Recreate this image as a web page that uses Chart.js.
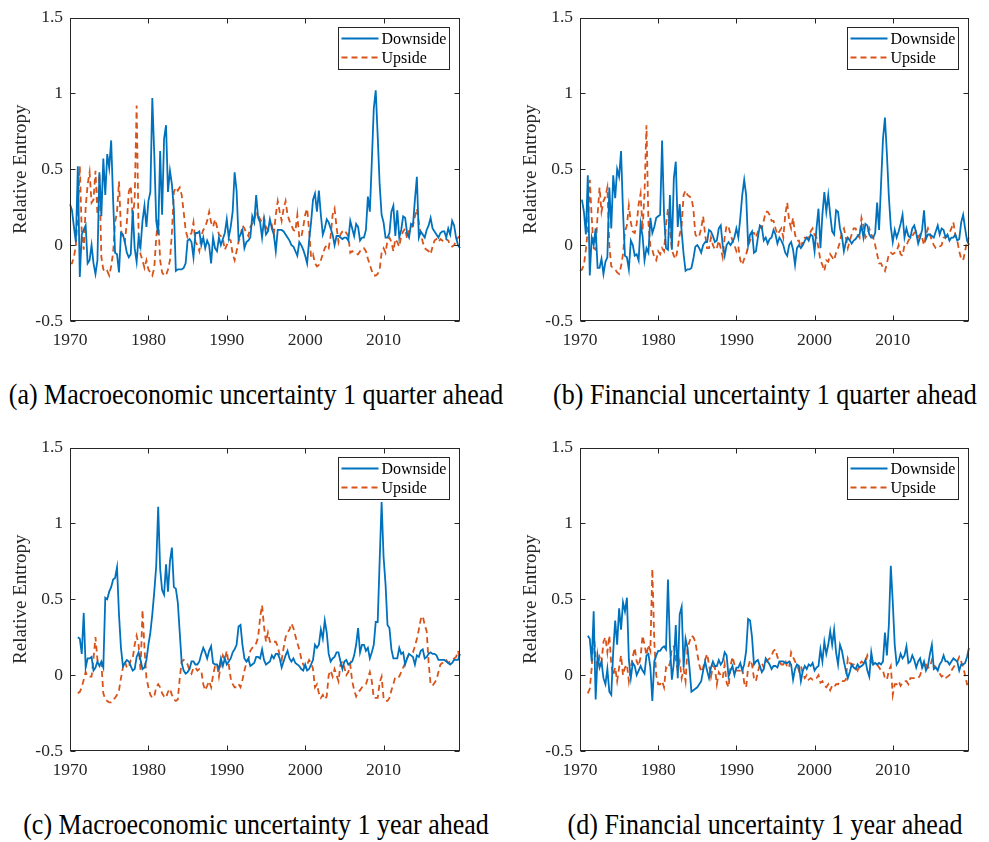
<!DOCTYPE html>
<html>
<head>
<meta charset="utf-8">
<script src="https://cdn.jsdelivr.net/npm/chart.js@4.4.1/dist/chart.umd.min.js"></script>
<style>
  html, body { margin: 0; padding: 0; background: #fff; width: 989px; height: 842px; overflow: hidden; }
  canvas { position: absolute; }
  .cap { position: absolute; font-family: "Liberation Serif", "Times New Roman", serif; font-size: 26px; line-height: 26px; color: #000; white-space: nowrap; transform: translateX(-50%) scaleY(1.15); }
</style>
</head>
<body>
<canvas id="ca" width="494" height="370" style="left:0;top:0"></canvas>
<canvas id="cb" width="479" height="370" style="left:510px;top:0"></canvas>
<canvas id="cc" width="494" height="370" style="left:0;top:430px"></canvas>
<canvas id="cd" width="479" height="370" style="left:510px;top:430px"></canvas>
<div class="cap" style="left:256px;top:382px">(a) Macroeconomic uncertainty 1 quarter ahead</div>
<div class="cap" style="left:765px;top:382px">(b) Financial uncertainty 1 quarter ahead</div>
<div class="cap" style="left:256px;top:812px">(c) Macroeconomic uncertainty 1 year ahead</div>
<div class="cap" style="left:765px;top:812px">(d) Financial uncertainty 1 year ahead</div>
<script>
// ---------- categories (quarters 1970Q1 .. 2019Q4) ----------
const years = [];
for (let y = 1970; y <= 2019; y++) years.push(y);
const quarters = years.flatMap(y => ['Q1', 'Q2', 'Q3', 'Q4'].map(q => y + q));
const xTickYears = ['1970', '1980', '1990', '2000', '2010'];
const yTickValues = [-0.5, 0, 0.5, 1, 1.5];
const seriesLabels = ['Downside', 'Upside'];

// ---------- (a) Macroeconomic uncertainty 1 quarter ahead ----------
const macroQDown = [
 0.27,0.23,0.12,0.02,0.52,-0.21,0.07,0.10,0.13,-0.12,
 -0.10,0.00,-0.12,-0.19,-0.10,0.48,0.19,0.57,0.33,0.60,
 0.51,0.69,0.30,-0.05,-0.06,-0.18,0.08,0.07,0.02,-0.05,
 -0.08,-0.06,0.23,-0.02,-0.11,0.05,-0.01,0.16,0.26,0.12,
 0.29,0.35,0.97,0.60,0.16,0.07,0.62,0.20,0.70,0.79,
 0.35,0.49,0.40,0.24,-0.17,-0.16,-0.16,-0.16,-0.15,-0.12,
 0.03,0.04,0.02,-0.08,0.08,0.08,0.09,0.00,0.05,-0.02,
 0.03,0.00,-0.12,0.05,-0.02,-0.04,0.05,0.00,0.04,0.08,
 0.17,0.05,0.12,0.22,0.48,0.36,0.04,0.07,0.10,-0.02,
 0.02,0.03,0.05,0.19,0.15,0.33,0.18,0.15,0.05,0.17,
 0.07,0.09,0.17,0.11,0.07,-0.04,0.10,0.10,0.10,0.09,
 0.07,0.05,0.03,0.00,-0.01,-0.04,-0.07,0.02,0.00,-0.03,
 -0.07,-0.12,0.03,0.15,0.30,0.34,0.22,0.36,0.20,0.07,
 0.11,0.17,0.15,0.11,0.07,0.00,0.06,0.06,0.05,0.04,
 0.05,0.05,0.03,0.16,0.11,0.06,0.14,0.12,0.03,0.05,
 0.05,0.10,0.32,0.22,0.55,0.90,1.02,0.72,0.40,0.20,
 0.15,0.05,0.05,0.08,0.22,0.26,0.06,0.23,0.05,0.10,
 0.19,0.18,0.08,0.05,0.14,0.13,0.30,0.45,0.05,0.09,
 0.07,0.05,0.10,0.13,0.18,0.11,0.09,0.07,0.05,0.08,
 0.09,0.09,0.05,0.11,0.07,0.16,0.13,0.05,0.00,-0.02
];
const macroQUp = [
 -0.12,-0.12,-0.08,0.00,0.22,0.52,0.08,-0.03,0.25,0.40,
 0.48,0.28,0.30,0.49,0.20,0.47,-0.08,-0.16,-0.18,-0.17,
 -0.20,-0.14,-0.05,0.15,0.22,0.42,0.10,0.05,0.02,0.15,
 0.35,0.39,0.18,0.30,0.92,0.08,-0.06,-0.10,-0.15,-0.10,
 -0.16,-0.18,-0.20,-0.15,0.05,0.18,-0.10,-0.18,-0.20,-0.20,
 -0.16,-0.10,0.08,0.35,0.38,0.36,0.38,0.33,0.22,0.10,
 0.05,0.06,0.08,0.15,0.02,0.00,-0.04,0.06,0.10,0.12,
 0.16,0.22,0.15,0.12,0.17,0.12,0.07,0.06,0.04,-0.03,
 0.00,0.04,0.03,-0.06,-0.10,-0.04,0.02,0.06,0.13,0.11,
 0.08,0.06,0.12,0.14,0.17,0.21,0.20,0.17,0.15,0.18,
 0.12,0.10,0.11,0.13,0.07,0.20,0.29,0.22,0.16,0.24,
 0.29,0.20,0.16,0.13,0.10,0.09,0.20,0.05,0.05,0.12,
 0.20,0.24,0.10,-0.08,-0.06,-0.12,-0.14,-0.13,-0.10,-0.06,
 -0.02,0.00,-0.02,0.06,0.20,0.24,0.12,0.02,0.07,0.09,
 0.10,0.08,0.06,-0.05,-0.04,-0.05,-0.06,-0.06,-0.04,-0.02,
 -0.02,-0.04,-0.09,-0.13,-0.17,-0.20,-0.20,-0.19,-0.16,-0.05,
 -0.02,-0.05,0.03,0.05,0.02,-0.04,0.04,0.02,-0.01,0.06,
 0.09,0.11,0.04,0.10,0.11,0.13,0.19,0.24,0.15,0.07,
 0.02,-0.02,-0.03,-0.04,-0.06,-0.01,0.03,0.04,0.02,0.04,
 0.03,0.05,0.04,0.03,0.00,-0.01,0.00,0.03,0.05,0.06
];

// ---------- (b) Financial uncertainty 1 quarter ahead ----------
const finQDown = [
 null,0.30,0.22,0.07,0.46,-0.20,0.05,0.00,0.11,-0.15,
 -0.15,-0.09,-0.19,-0.11,-0.08,0.38,0.11,0.46,0.31,0.50,
 0.45,0.62,0.22,-0.07,-0.08,-0.16,0.03,0.00,-0.07,-0.06,
 -0.10,0.14,0.06,-0.10,-0.02,-0.05,0.18,0.08,0.12,0.18,
 0.19,0.20,0.69,0.20,-0.02,-0.03,0.33,-0.03,0.44,0.55,
 0.12,0.27,0.09,-0.06,-0.17,-0.16,-0.16,-0.15,-0.09,-0.01,
 0.00,-0.02,-0.05,0.00,0.02,0.02,0.10,0.09,0.06,0.02,
 0.03,0.11,0.13,0.00,-0.07,0.00,0.02,0.00,0.02,0.05,
 0.11,0.05,0.18,0.33,0.43,0.33,0.00,0.07,0.09,-0.05,
 -0.04,0.05,0.13,0.12,0.03,0.05,0.01,0.04,0.05,0.10,
 0.07,0.01,0.05,0.03,0.00,-0.05,-0.07,0.00,0.02,-0.03,
 -0.13,-0.02,0.00,-0.02,0.00,0.03,0.05,0.03,0.07,0.06,
 -0.04,0.11,0.24,-0.02,0.20,0.35,0.22,0.33,0.20,0.09,
 0.07,0.23,0.22,0.11,0.06,-0.04,0.02,0.05,0.03,0.01,
 0.03,0.04,0.06,0.07,0.13,0.05,0.14,0.13,0.07,0.05,
 0.05,0.08,0.28,0.10,0.40,0.70,0.84,0.60,0.32,0.12,
 0.02,0.10,0.05,0.09,0.14,0.20,0.05,0.11,0.06,0.05,
 0.11,0.13,0.08,0.01,0.05,0.10,0.23,0.04,0.07,0.07,
 0.06,0.05,0.09,0.13,0.07,0.11,0.10,0.05,0.07,0.03,
 0.05,0.05,0.07,0.03,0.04,0.15,0.20,0.11,0.03,0.00
];
const finQUp = [
 -0.17,-0.16,-0.13,-0.03,0.10,0.43,0.18,-0.02,-0.03,0.20,
 0.38,0.22,0.29,0.32,0.38,0.00,-0.14,-0.15,-0.16,-0.18,
 -0.19,-0.14,-0.06,0.09,0.13,0.26,0.15,0.09,0.08,0.14,
 0.27,0.34,0.10,0.34,0.79,0.15,-0.01,-0.03,-0.08,-0.10,
 -0.04,-0.06,-0.02,-0.04,0.13,0.24,0.10,-0.03,-0.07,-0.09,
 -0.02,0.07,0.13,0.33,0.36,0.33,0.32,0.31,0.24,0.07,
 0.05,0.06,0.11,0.19,0.07,-0.02,-0.02,0.05,0.00,-0.03,
 -0.02,0.03,-0.02,-0.08,0.05,0.13,0.12,0.07,0.03,0.00,
 -0.04,-0.01,-0.10,-0.13,-0.09,-0.06,-0.01,0.03,0.08,0.08,
 0.05,0.09,0.12,0.11,0.16,0.22,0.22,0.20,0.16,0.16,
 0.11,0.07,0.09,0.11,0.05,0.20,0.28,0.16,0.11,0.18,
 0.07,0.03,0.03,-0.02,0.03,0.05,0.05,0.05,0.09,0.11,
 0.07,0.05,-0.02,-0.10,-0.13,-0.17,-0.10,-0.11,-0.06,-0.08,
 -0.10,-0.05,-0.02,0.02,0.09,0.11,0.05,-0.02,0.03,0.07,
 0.11,0.11,0.07,0.05,0.18,0.13,0.05,0.07,0.11,0.07,
 0.05,0.00,-0.06,-0.12,-0.12,-0.15,-0.17,-0.12,-0.06,-0.05,
 -0.06,-0.05,-0.04,0.00,-0.06,-0.07,0.00,0.00,0.03,0.05,
 0.06,0.08,0.09,0.05,0.07,0.05,0.00,0.07,0.11,0.07,
 0.03,0.00,-0.02,-0.02,-0.01,0.00,0.05,0.05,0.06,0.08,
 0.11,0.15,0.07,0.03,-0.04,-0.09,-0.10,-0.04,0.03,0.05
];

// ---------- (c) Macroeconomic uncertainty 1 year ahead ----------
const macroYDown = [
 null,null,null,null,0.25,0.24,0.14,0.41,0.05,0.11,
 0.11,0.12,0.03,0.05,0.09,0.06,0.09,0.05,0.51,0.50,
 0.55,0.58,0.63,0.64,0.71,0.40,0.18,0.06,0.08,0.10,
 0.09,0.06,0.03,0.04,0.12,0.15,0.10,0.04,0.05,0.10,
 0.20,0.28,0.40,0.55,0.72,1.11,0.70,0.56,0.53,0.73,
 0.55,0.75,0.84,0.58,0.57,0.48,0.28,0.08,0.03,0.01,
 0.02,0.04,0.09,0.09,0.07,0.07,0.09,0.14,0.18,0.15,
 0.11,0.16,0.19,0.08,0.07,0.07,0.04,0.11,0.06,0.11,
 0.07,0.09,0.11,0.15,0.17,0.20,0.32,0.33,0.20,0.11,
 0.09,0.11,0.06,0.07,0.08,0.12,0.12,0.11,0.17,0.10,
 0.07,0.08,0.09,0.13,0.11,0.14,0.14,0.11,0.05,0.09,
 0.13,0.16,0.11,0.09,0.11,0.08,0.07,0.06,0.04,0.03,
 0.07,0.03,0.04,0.07,0.10,0.20,0.18,0.20,0.30,0.24,
 0.36,0.28,0.14,0.09,0.11,0.12,0.15,0.15,0.09,0.04,
 0.09,0.10,0.07,0.08,0.09,0.13,0.20,0.31,0.15,0.20,
 0.20,0.16,0.18,0.11,0.15,0.20,0.35,0.35,0.75,1.14,
 0.78,0.60,0.33,0.31,0.17,0.11,0.11,0.11,0.18,0.14,
 0.15,0.07,0.11,0.14,0.13,0.12,0.07,0.13,0.12,0.16,
 0.17,0.11,0.12,0.14,0.15,0.14,0.14,0.13,0.10,0.10,
 0.10,0.10,0.09,0.08,0.07,0.08,0.10,0.10,0.10,0.14
];
const macroYUp = [
 null,null,null,null,-0.12,-0.11,-0.08,-0.03,0.02,-0.01,
 -0.01,-0.01,0.11,0.25,0.10,0.07,0.08,-0.12,-0.16,-0.17,
 -0.18,-0.18,-0.16,-0.15,-0.13,-0.10,-0.02,0.05,0.09,0.05,
 0.05,0.10,0.11,0.20,0.26,0.20,0.03,0.43,0.18,-0.02,
 -0.08,-0.13,-0.15,-0.14,-0.08,-0.06,-0.08,-0.12,-0.14,-0.15,
 -0.11,-0.09,-0.13,-0.16,-0.17,-0.16,-0.02,0.09,0.10,0.09,
 0.07,0.03,0.01,0.05,0.05,0.03,0.04,0.03,-0.06,-0.10,
 -0.07,-0.04,-0.08,0.00,0.06,0.07,-0.01,0.07,0.13,0.10,
 0.16,0.07,-0.02,-0.06,-0.08,-0.08,-0.06,-0.08,-0.03,0.03,
 0.08,0.10,0.16,0.18,0.19,0.21,0.25,0.38,0.46,0.32,
 0.22,0.28,0.22,0.21,0.22,0.22,0.19,0.13,0.10,0.18,
 0.25,0.28,0.30,0.34,0.31,0.26,0.21,0.17,0.11,0.07,
 0.05,0.07,0.10,0.08,0.04,-0.08,-0.06,-0.12,-0.15,-0.13,
 -0.16,-0.14,0.00,0.03,-0.01,0.04,0.00,-0.04,0.07,0.09,
 0.05,0.00,0.02,0.07,-0.04,-0.10,-0.14,-0.11,-0.10,-0.08,
 -0.07,-0.06,-0.02,0.02,-0.04,-0.15,-0.15,-0.15,-0.05,-0.01,
 -0.15,-0.17,-0.17,-0.15,-0.10,-0.06,-0.01,-0.01,-0.01,0.02,
 0.05,0.08,0.11,0.14,0.14,0.15,0.19,0.24,0.30,0.37,
 0.39,0.33,0.29,0.08,-0.06,-0.07,-0.05,-0.03,0.02,0.07,
 0.08,0.09,0.10,0.08,0.09,0.10,0.11,0.12,0.16,0.10
];

// ---------- (d) Financial uncertainty 1 year ahead ----------
const finYDown = [
 null,null,null,null,0.26,0.24,0.09,0.42,-0.16,0.13,
 0.05,0.09,-0.02,-0.06,0.04,-0.11,-0.13,0.16,0.36,0.20,
 0.44,0.30,0.48,0.42,0.51,0.10,-0.02,0.08,0.06,0.00,
 0.03,0.06,0.03,0.01,0.13,0.14,0.05,-0.17,0.09,0.13,
 0.16,0.16,0.18,0.19,0.17,0.63,0.20,-0.03,0.08,0.33,
 -0.02,0.40,0.45,0.05,0.24,0.18,0.05,-0.11,-0.10,-0.09,
 -0.08,-0.06,-0.04,0.03,0.09,0.03,-0.02,0.05,0.09,0.06,
 0.06,0.10,0.07,0.09,0.15,0.13,-0.01,0.03,0.06,0.00,
 0.05,0.05,0.08,0.03,0.07,0.16,0.37,0.36,0.25,0.07,
 0.09,0.10,0.06,0.02,0.04,0.11,0.09,0.07,0.04,0.06,
 0.06,0.05,0.09,0.09,0.09,0.08,0.08,0.09,0.07,-0.03,
 0.04,0.07,0.06,-0.04,0.03,0.06,0.04,0.07,0.06,0.08,
 0.03,0.05,0.06,0.17,0.09,0.22,0.14,0.20,0.29,0.20,
 0.30,0.15,0.07,0.20,0.16,0.09,0.03,-0.02,0.02,0.07,
 0.05,0.04,0.07,0.05,0.06,0.07,0.10,0.03,-0.01,0.15,
 0.07,0.08,0.07,0.08,0.07,0.09,0.28,0.13,0.33,0.72,
 0.48,0.20,0.07,0.09,0.14,0.11,0.13,0.19,0.08,0.09,
 0.13,0.10,0.05,0.09,0.11,0.05,0.09,0.03,0.06,0.14,
 0.20,0.04,0.05,0.03,0.07,0.09,0.13,0.09,0.09,0.07,
 0.09,0.11,0.10,0.09,0.03,0.07,0.07,0.08,0.12,0.18
];
const finYUp = [
 null,null,null,null,-0.12,-0.09,0.05,0.28,0.12,0.06,
 0.12,0.08,0.22,0.25,0.15,0.26,0.07,0.00,0.05,-0.04,
 0.05,0.13,0.00,0.05,0.07,-0.04,0.05,0.12,0.18,0.09,
 0.06,0.12,0.26,0.20,0.13,0.20,0.16,0.70,0.22,0.00,
 -0.06,-0.06,-0.04,-0.08,0.05,0.04,0.08,0.18,0.19,0.10,
 0.03,0.09,-0.02,0.04,-0.04,0.18,0.22,0.26,0.25,0.22,
 0.14,0.07,0.02,0.05,0.10,0.14,0.07,-0.01,0.06,0.05,
 -0.06,0.02,0.00,-0.02,0.07,-0.05,-0.08,0.06,0.12,0.07,
 0.03,0.03,0.03,0.05,-0.05,-0.08,0.05,0.10,0.07,-0.02,
 -0.04,0.02,0.07,0.08,0.05,0.08,0.10,0.11,0.13,0.16,
 0.17,0.12,0.09,0.07,0.07,0.10,0.05,0.05,0.15,0.12,
 0.09,0.07,0.03,0.06,0.01,-0.02,0.00,-0.03,-0.02,-0.03,
 -0.02,-0.02,0.00,-0.05,-0.04,-0.07,-0.08,-0.06,-0.10,-0.07,
 -0.08,-0.06,-0.06,-0.04,-0.04,-0.04,-0.03,0.11,0.08,0.07,
 0.07,0.05,0.03,0.07,0.09,0.08,0.08,0.13,0.10,0.09,
 0.07,0.07,0.07,0.05,0.03,0.03,-0.02,-0.03,0.03,0.06,
 -0.13,-0.06,-0.06,-0.04,-0.07,-0.05,-0.04,-0.04,-0.06,-0.02,
 -0.02,-0.02,-0.02,-0.02,0.00,0.04,0.09,0.07,0.05,0.05,
 0.10,0.07,0.05,0.04,0.01,-0.01,0.00,-0.02,-0.01,0.00,
 0.03,0.05,0.07,0.09,0.12,0.09,0.05,0.00,-0.06,-0.06
];

// ---------- styling ----------
const BLUE = '#0072BD', ORANGE = '#D95319', AXIS = '#262626';
const FONT = '"Liberation Serif", "Times New Roman", serif';

const framePlugin = {
  id: 'matlabFrame',
  afterDraw(chart) {
    const { ctx, chartArea: a, scales: { x, y } } = chart;
    ctx.save();
    ctx.strokeStyle = AXIS;
    ctx.lineWidth = 1;
    ctx.setLineDash([]);
    const L = Math.round(a.left) + 0.5, R = Math.round(a.right) - 0.5;
    const T = Math.round(a.top) + 0.5, B = Math.round(a.bottom) - 0.5;
    ctx.strokeRect(L, T, R - L, B - T);
    const tl = 5;
    ctx.beginPath();
    y.ticks.forEach(t => {
      const py = Math.round(y.getPixelForValue(t.value)) + 0.5;
      ctx.moveTo(L, py); ctx.lineTo(L + tl, py);
      ctx.moveTo(R, py); ctx.lineTo(R - tl, py);
    });
    x.ticks.forEach(t => {
      if (t.label === null || t.label === undefined || t.label === '') return;
      const px = Math.round(x.getPixelForValue(t.value)) + 0.5;
      ctx.moveTo(px, B); ctx.lineTo(px, B - tl);
      ctx.moveTo(px, T); ctx.lineTo(px, T + tl);
    });
    ctx.stroke();

    // legend box (MATLAB style, inside upper right)
    const bw = 111, bh = 42;
    const bx = Math.round(a.right - 11 - bw) + 0.5, by = Math.round(a.top + 9) + 0.5;
    ctx.fillStyle = '#fff';
    ctx.fillRect(bx, by, bw, bh);
    ctx.strokeStyle = AXIS;
    ctx.lineWidth = 1;
    ctx.strokeRect(bx, by, bw, bh);
    chart.data.datasets.forEach((ds, k) => {
      const ly = by + 11 + k * 19;
      ctx.strokeStyle = ds.borderColor;
      ctx.lineWidth = ds.borderWidth;
      ctx.setLineDash(ds.borderDash || []);
      ctx.beginPath();
      ctx.moveTo(bx + 3, ly); ctx.lineTo(bx + 40, ly);
      ctx.stroke();
      ctx.setLineDash([]);
      ctx.fillStyle = '#000';
      ctx.font = '16px ' + FONT;
      ctx.textBaseline = 'middle';
      ctx.textAlign = 'left';
      ctx.fillText(ds.label, bx + 43, ly + 1);
    });
    ctx.restore();
  }
};

function makeChart(id, down, up, padRight) {
  return new Chart(document.getElementById(id), {
    type: 'line',
    data: {
      labels: quarters,
      datasets: [
        { label: seriesLabels[0], data: down, borderColor: BLUE, backgroundColor: BLUE,
          borderWidth: 1.8, pointRadius: 0, tension: 0, fill: false, spanGaps: false },
        { label: seriesLabels[1], data: up, borderColor: ORANGE, backgroundColor: ORANGE,
          borderWidth: 1.8, borderDash: [6, 4], pointRadius: 0, tension: 0, fill: false, spanGaps: false }
      ]
    },
    options: {
      responsive: false,
      animation: false,
      events: [],
      layout: { padding: { top: 14, right: padRight, left: 0, bottom: 0 } },
      plugins: { legend: { display: false }, tooltip: { enabled: false } },
      scales: {
        x: {
          type: 'category',
          offset: false,
          grid: { display: false, drawTicks: false },
          border: { display: false },
          ticks: {
            autoSkip: false, maxRotation: 0, minRotation: 0, padding: 9,
            color: AXIS, font: { family: FONT, size: 17.5 },
            callback: (v) => {
              const lab = quarters[v];
              const yr = lab.slice(0, 4);
              return (lab.endsWith('Q1') && xTickYears.includes(yr)) ? yr : null;
            }
          },
          afterFit: (s) => { s.height = 49; }
        },
        y: {
          type: 'linear',
          min: yTickValues[0], max: yTickValues[yTickValues.length - 1],
          grid: { display: false, drawTicks: false },
          border: { display: false },
          afterBuildTicks: (s) => { s.ticks = yTickValues.map(v => ({ value: v })); },
          ticks: {
            padding: 7, color: AXIS, font: { family: FONT, size: 17.5 },
            callback: (v) => String(v)
          },
          title: {
            display: true, text: 'Relative Entropy', color: AXIS,
            font: { family: FONT, size: 19 }, padding: { top: 10, bottom: 0 }
          },
          afterFit: (s) => { s.width = 70; }
        }
      }
    },
    plugins: [framePlugin]
  });
}

makeChart('ca', macroQDown, macroQUp, 34);
makeChart('cb', finQDown, finQUp, 20);
makeChart('cc', macroYDown, macroYUp, 34);
makeChart('cd', finYDown, finYUp, 20);
</script>
</body>
</html>
